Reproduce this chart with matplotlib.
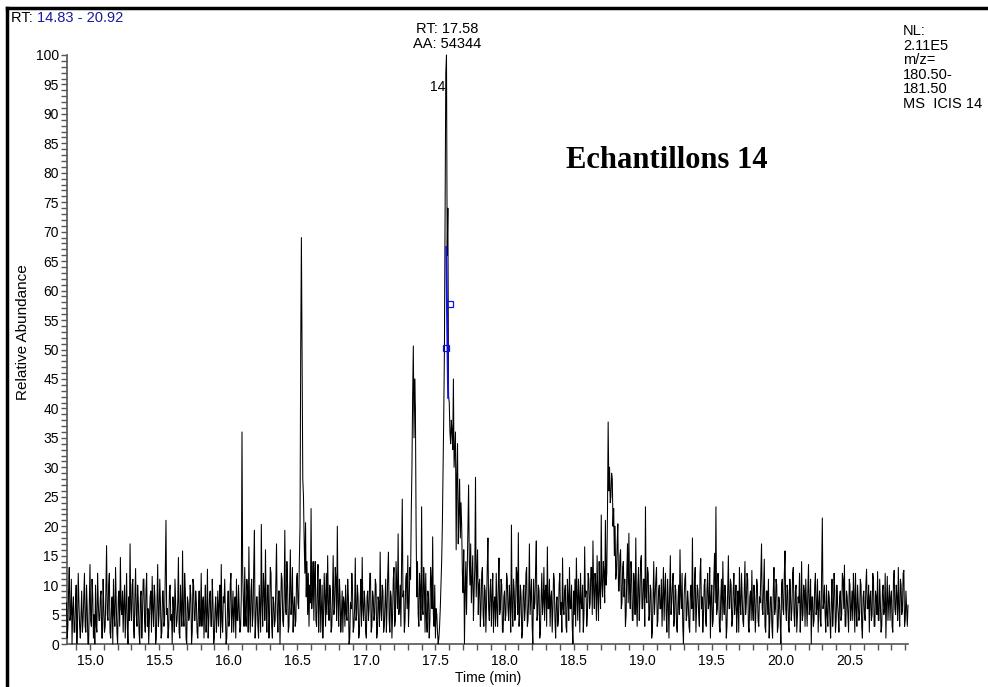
import numpy as np
import matplotlib
matplotlib.use("Agg")
import matplotlib.pyplot as plt
from matplotlib.lines import Line2D
from matplotlib.ticker import MultipleLocator, FormatStrFormatter

# ---------------- data ----------------
rt_start = 14.83
rt_end = 20.92
rt_step = 0.005

abundance = [
    7, 1, 3, 9, 13, 4, 5, 11, 0, 6, 8, 2, 2, 7, 10, 0, 4, 12, 7, 3,
    1, 5, 9, 2, 4, 8, 12, 3, 2, 10, 6, 0, 0, 7, 13.5, 4, 3, 11, 8, 1,
    5, 0, 10, 3, 2, 12, 7, 4, 4, 8, 9, 1, 1, 11, 6, 2, 3, 9, 16.7, 5,
    4, 10, 12, 2, 1, 6, 8, 0, 11, 5, 3, 13, 7, 2, 0, 8, 9, 3, 14.7, 6,
    5, 9, 2, 7, 10, 1, 6, 12, 3, 0, 8, 4, 17, 6, 4, 10, 11, 3, 1, 8,
    12.8, 5, 3, 10, 7, 2, 0, 8, 9, 1, 5, 11, 11, 4, 2, 9, 12, 3, 6, 0,
    4, 8, 9, 2, 11.5, 6, 3, 10, 8, 0, 1, 7, 13.5, 3, 5, 11, 7, 1, 2, 9,
    9, 3, 4, 12, 21, 5, 6, 1, 3, 9, 10, 4, 5, 0, 8, 6, 2, 11, 7, 3,
    4, 7, 14.7, 2, 1, 10, 6, 3, 15.8, 5, 3, 12, 9, 1, 0, 8, 7, 4, 5, 10,
    8, 0, 2, 11, 10, 4, 4, 9, 7, 2, 1, 6, 9, 3, 5, 12, 3, 7, 8, 1,
    6, 10, 2, 5, 12.7, 1, 4, 8, 9, 3, 3, 11, 7, 0, 1, 6, 8, 2, 5, 9,
    3, 7, 10, 1, 13.5, 4, 2, 8, 7, 11, 5, 0, 1, 6, 9, 3, 4, 10, 12, 2,
    5, 9, 2, 6, 8, 1, 11, 4, 4, 10, 6, 2, 3, 8, 36, 12, 7, 3, 13, 5,
    3, 11, 9, 2, 16.5, 6, 2, 9, 11, 3, 5, 13, 19.3, 1, 4, 8, 8, 3, 1, 10,
    6, 2, 20.3, 7, 3, 12, 9, 4, 16, 6, 2, 10, 10, 1, 5, 13, 12, 3, 1, 8,
    7, 3, 4, 11, 17, 5, 2, 9, 9, 0, 6, 12, 11, 4, 3, 8, 19.3, 6, 5, 14,
    10, 2, 3, 9, 16, 5, 7, 13, 2, 6, 8, 3, 4, 11, 12, 7, 6, 14, 20, 50,
    69, 48, 28, 25, 17.5, 12, 20.6, 8, 14, 5, 12, 3, 10, 7, 23, 6, 9, 14, 4, 11,
    14, 4, 3, 9, 13.5, 2, 7, 11, 2, 6, 10, 1, 5, 12, 8, 3, 12, 5, 15, 7,
    4, 10, 9, 2, 3, 8, 15, 5, 6, 13, 11, 4, 20, 7, 3, 11, 8, 2, 5, 9,
    2, 8, 7, 3, 10, 5, 4, 11, 8, 0, 1, 7, 6, 12, 9, 2, 3, 6, 14.6, 4,
    5, 10, 8, 1, 2, 7, 11, 3, 14.7, 6, 4, 9, 7, 2, 1, 8, 9, 4, 6, 12,
    12, 2, 3, 9, 8, 4, 5, 11, 10, 1, 2, 8, 7, 3, 15.6, 6, 4, 10, 9, 2,
    3, 7, 11, 2, 6, 12, 15.6, 4, 2, 9, 8, 1, 5, 11, 13, 3, 4, 14, 10, 6,
    18.7, 5, 6, 10, 3, 13, 24.6, 8, 9, 2, 4, 11, 12, 6, 15, 3, 7, 13, 11, 22,
    30, 42, 50.6, 35, 45, 40, 20, 8, 14, 5, 3, 12, 9, 4, 23.3, 6, 5, 13, 10, 2,
    12, 4, 2, 9, 8, 1, 4, 13, 11, 6, 18.2, 5, 3, 10, 1, 6, 5, 2, 0, 1,
    3, 6, 10, 14, 20, 29, 38.5, 50, 74, 97, 100, 66, 74, 42, 41, 36, 34, 38, 36, 33,
    45, 30, 33, 36, 16, 29, 34, 17, 22, 28, 18, 24, 20, 12, 8.7, 16, 0, 9, 14, 5,
    12, 20, 27, 14, 10, 17, 7, 11, 15, 4, 9, 13, 28.3, 8, 12, 16, 5, 10, 11, 3,
    6, 12, 13, 5, 3, 10, 9, 2, 7, 13, 18, 6, 4, 9, 11, 3, 8, 12, 2, 7,
    8, 3, 12, 6, 3, 10, 14.6, 5, 6, 11, 10, 2, 2, 8, 9, 4, 5, 12, 11, 6,
    4, 10, 7, 2, 20.2, 6, 3, 11, 9, 4, 6, 13, 12, 5, 18.9, 3, 5, 10, 8, 1,
    2, 9, 10, 4, 6, 12, 13, 3, 4, 8, 17, 5, 8, 11, 3, 0, 11, 6, 7, 13,
    17.5, 4, 5, 10, 9, 1, 2, 8, 12, 5, 7, 13, 4, 9, 10, 3, 16.5, 6, 6, 11,
    3, 8, 9, 2, 6, 12, 11, 4, 1, 7, 8, 3, 4, 10, 12, 5, 7, 2, 14.6, 6,
    5, 9, 10, 3, 2, 11, 8, 4, 13, 6, 6, 10, 3, 0, 9, 5, 11, 3, 14.6, 8,
    4, 11, 8, 2, 12, 7, 6, 10, 2, 5, 16.5, 8, 9, 3, 5, 12, 11, 6, 7, 13,
    13, 5, 17.5, 9, 6, 12, 10, 4, 15, 8, 4, 14, 9, 6, 21.9, 10, 8, 14, 12, 7,
    21, 10, 12, 22, 37.7, 26, 30, 24, 25, 29, 28, 20, 23, 15, 20, 11, 12, 17, 20.4, 9,
    9, 15, 16, 6, 7, 13, 14, 8, 11, 3, 5, 12, 17, 7, 18.8, 9, 6, 14, 12, 4,
    4, 12, 10, 5, 18, 7, 3, 10, 13, 4, 8, 14, 15, 6, 6, 11, 11, 3, 23.3, 8,
    7, 13, 12, 4, 5, 10, 9, 1, 2, 8, 14, 5, 8, 11, 13, 3, 4, 9, 10, 6,
    6, 11, 3, 8, 13, 4, 9, 12, 5, 2, 11, 7, 1, 9, 15, 5, 7, 10, 12, 3,
    4, 10, 9, 3, 2, 7, 10, 5, 16, 8, 6, 12, 3, 0, 8, 11, 12, 4, 5, 9,
    7, 3, 2, 9, 10, 6, 18, 4, 4, 11, 13, 2, 6, 10, 9, 5, 3, 12, 14.5, 6,
    8, 2, 5, 10, 11, 4, 3, 9, 12, 6, 7, 13, 1, 8, 10, 3, 4, 11, 15.4, 7,
    23.3, 5, 6, 12, 9, 3, 2, 8, 11, 4, 14, 7, 5, 10, 8, 1, 3, 9, 15, 6,
    6, 11, 10, 3, 4, 9, 12, 5, 7, 10, 2, 6, 9, 2, 13, 7, 5, 12, 8, 4,
    3, 9, 14, 5, 7, 12, 11, 3, 2, 8, 9, 4, 12.5, 6, 4, 10, 8, 2, 6, 11,
    10, 4, 3, 8, 7, 12, 17, 6, 5, 10, 14.4, 3, 2, 9, 9, 5, 11, 1, 4, 8,
    8, 3, 1, 9, 13, 5, 6, 11, 10, 2, 3, 8, 7, 4, 0, 10, 11, 6, 5, 12,
    15.8, 6, 4, 10, 9, 3, 2, 11, 8, 4, 6, 12, 13, 5, 3, 9, 10, 2, 5, 8,
    7, 12, 2, 6, 14, 4, 5, 10, 9, 3, 11, 7, 3, 9, 13.5, 5, 6, 11, 0, 8,
    8, 3, 4, 10, 12, 5, 6, 11, 2, 7, 9, 4, 3, 12, 21.4, 6, 7, 10, 5, 2,
    10, 5, 3, 9, 8, 4, 1, 7, 11, 3, 6, 12, 9, 2, 4, 10, 7, 5, 2, 8,
    9, 4, 5, 12, 11, 6, 13.4, 3, 3, 9, 8, 5, 2, 11, 10, 4, 6, 9, 4, 12,
    8, 2, 12, 6, 3, 10, 7, 4, 5, 11, 10, 3, 1, 8, 9, 5, 4, 10, 12.7, 6,
    6, 10, 2, 8, 9, 4, 5, 12, 11, 3, 3, 9, 8, 5, 12.3, 4, 4, 11, 7, 2,
    3, 9, 10, 5, 6, 12, 1, 7, 11.5, 4, 7, 10, 4, 8, 9, 3, 2, 11, 12.5, 6,
    5, 10, 8, 4, 13, 6, 3, 11, 10, 5, 6, 12, 12.5, 3, 4, 9, 6, 3, 6.6,
]

peak_rt = 17.58
peak_area = 54344
peak_label = "14"
peak_label_ab = 94.5
baseline_rt = [17.578, 17.592]
baseline_ab = [67.4, 41.8]
marker_rt = [17.605, 17.577]
marker_ab = [57.7, 50.2]

sample_title = "Echantillons 14"
nl_lines = ["NL:", "2.11E5", "m/z=", "180.50-", "181.50", "MS  ICIS 14"]

x_major = [15.0, 15.5, 16.0, 16.5, 17.0, 17.5, 18.0, 18.5, 19.0, 19.5, 20.0, 20.5]
y_major = list(range(0, 101, 5))

# ---------------- figure ----------------
W, H = 988, 687
fig = plt.figure(figsize=(W / 100, H / 100), dpi=100)
fig.patch.set_facecolor("white")
sans = ["Liberation Sans", "DejaVu Sans"]
plt.rcParams["font.family"] = sans

def fx(px):
    return px / W

def fy(py):
    return 1 - py / H

ax = fig.add_axes([fx(66.5), fy(644), fx(908) - fx(66.5), (644 - 55) / H])
rt = rt_start + rt_step * np.arange(len(abundance))
ax.plot(rt, abundance, color="black", lw=0.75, clip_on=False, zorder=3)

ax.plot(baseline_rt, baseline_ab, color="#1010e0", lw=1.4, zorder=4)
ax.plot(marker_rt, marker_ab, linestyle="none", marker="s", markersize=4.5,
        markerfacecolor="none", markeredgecolor="#1010e0", markeredgewidth=0.9, zorder=5)

ax.set_xlim(rt_start, rt_end)
ax.set_ylim(0, 100)
for s in ("top", "right"):
    ax.spines[s].set_visible(False)
for s in ("left", "bottom"):
    ax.spines[s].set_color("#555555")
    ax.spines[s].set_linewidth(1.2)

ax.set_xticks(x_major)
ax.xaxis.set_minor_locator(MultipleLocator(0.1))
ax.xaxis.set_major_formatter(FormatStrFormatter("%.1f"))
ax.set_yticks(y_major)
ax.yaxis.set_minor_locator(MultipleLocator(1))
ax.tick_params(axis="both", which="both", direction="out", color="#555555", width=1.0)
ax.tick_params(axis="x", which="both", length=4.5, labelsize=10, pad=3)
ax.tick_params(axis="y", which="both", length=4.5, labelsize=10, pad=1)

ax.set_xlabel("Time (min)", fontsize=10)
ax.xaxis.set_label_coords((488 - 66.5) / (908 - 66.5), -0.045)
ax.set_ylabel("Relative Abundance", fontsize=11)
ax.yaxis.set_label_coords(-0.0435, 0.53)

# annotations
ax.text(peak_rt - 0.005, peak_label_ab, peak_label, fontsize=10, ha="right", va="center")
fig.text(fx(447), fy(22), f"RT: {peak_rt:.2f}\nAA: {peak_area}", fontsize=10.5,
         ha="center", va="top", linespacing=1.05)
fig.text(fx(566), fy(160), sample_title, fontsize=22, fontweight="bold",
         family=["Liberation Serif", "DejaVu Serif"], ha="left", va="center")
fig.text(fx(903), fy(24), "\n".join(nl_lines), fontsize=10.5, ha="left", va="top",
         linespacing=1.05)

t1 = fig.text(fx(11), fy(18), "RT: ", fontsize=10.5, ha="left", va="center")
fig.canvas.draw()
bb = t1.get_window_extent()
fig.text(bb.x1 / W, fy(18), f"{rt_start:.2f} - {rt_end:.2f}", fontsize=10.5,
         color="#1a1a9e", ha="left", va="center")

# outer frame
fig.add_artist(Line2D([fx(7), fx(7)], [0, fy(8)], transform=fig.transFigure,
                      color="black", lw=2.5))
fig.add_artist(Line2D([fx(7), 1], [fy(8), fy(8)], transform=fig.transFigure,
                      color="black", lw=2.5))

fig.savefig("out.png", dpi=100, facecolor="white")
